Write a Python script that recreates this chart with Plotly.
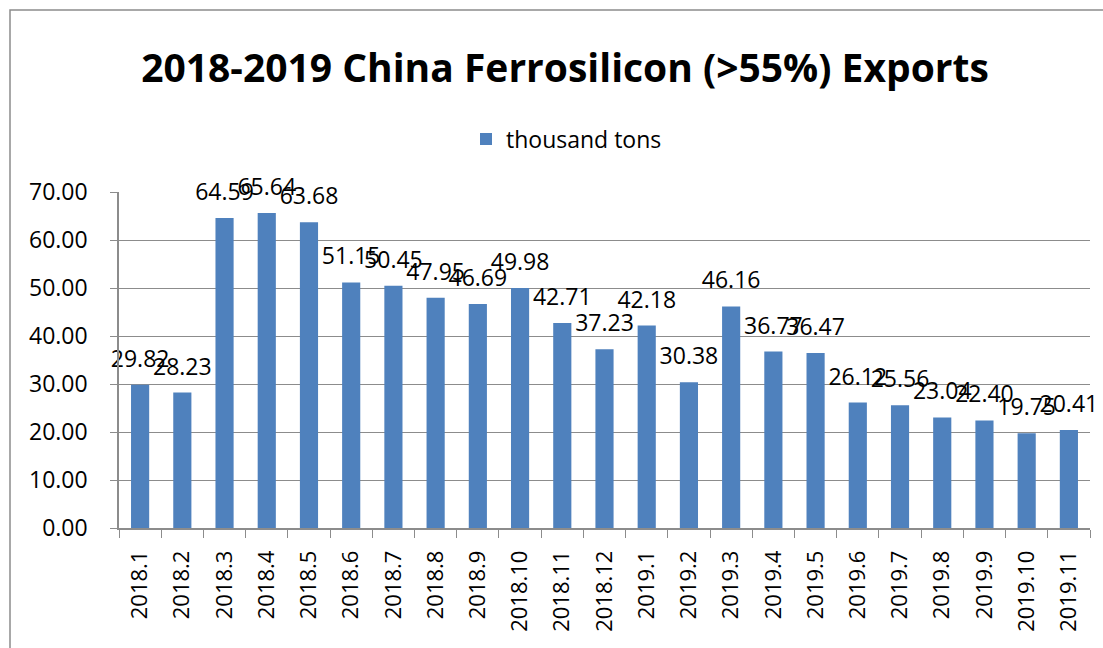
import plotly.graph_objects as go

categories = ["2018.1", "2018.2", "2018.3", "2018.4", "2018.5", "2018.6", "2018.7", "2018.8",
              "2018.9", "2018.10", "2018.11", "2018.12", "2019.1", "2019.2", "2019.3", "2019.4",
              "2019.5", "2019.6", "2019.7", "2019.8", "2019.9", "2019.10", "2019.11"]
values = [29.82, 28.23, 64.59, 65.64, 63.68, 51.15, 50.45, 47.95, 46.69, 49.98, 42.71, 37.23,
          42.18, 30.38, 46.16, 36.77, 36.47, 26.12, 25.56, 23.04, 22.40, 19.75, 20.41]
y_ticks = [0, 10, 20, 30, 40, 50, 60, 70]
series_name = "thousand tons"
title_text = "2018-2019 China Ferrosilicon (>55%) Exports"

FONT = "Open Sans"
W, H = 1103, 648
L, R, T, B = 119, 13, 192, 120
pw, ph = W - L - R, H - T - B

fig = go.Figure()
fig.add_trace(go.Bar(
    x=categories, y=values, name=series_name,
    marker=dict(color="#4f81bd", line=dict(width=0)),
    hoverinfo="skip",
))
# data labels above the bars
fig.add_trace(go.Scatter(
    x=categories, y=values, mode="markers+text",
    text=[f"{v:.2f}" for v in values], textposition="top center",
    marker=dict(size=18, opacity=0, color="white"),
    textfont=dict(family=FONT, size=23, color="#000000"),
    showlegend=False, cliponaxis=False, hoverinfo="skip",
))

def px(x):
    return (x - L) / pw

def py(y):
    return (H - B - y) / ph

fig.add_shape(type="rect", xref="paper", yref="paper",
              x0=px(10), x1=px(1110), y0=py(670), y1=py(10),
              line=dict(color="#8c8c8c", width=1.5), fillcolor="rgba(0,0,0,0)", layer="below")

fig.update_layout(
    width=W, height=H,
    margin=dict(l=L, r=R, t=T, b=B, autoexpand=False),
    paper_bgcolor="white", plot_bgcolor="white",
    bargap=0.57,
    showlegend=True,
    title=dict(text=f"<b>{title_text}</b>", x=565 / W, xanchor="center", y=1 - 68 / H, yanchor="middle",
               font=dict(family=FONT, size=39, color="#000000")),
    legend=dict(orientation="h", x=466 / W, xanchor="left", xref="container",
                y=1 - 139 / H, yref="container", yanchor="middle",
                font=dict(family=FONT, size=23, color="#000000"),
                itemwidth=30),
    xaxis=dict(type="category", tickangle=-90, tickson="boundaries",
               range=[-0.5, len(categories) - 0.5],
               ticks="outside", ticklen=8, tickcolor="#8c8c8c",
               showline=True, linecolor="#8c8c8c", linewidth=1.5,
               tickfont=dict(family=FONT, size=22, color="#000000"),
               ticklabelstandoff=12,
               showgrid=False),
    yaxis=dict(range=[0, 70], tickvals=y_ticks, ticktext=[f"{v:.2f}" for v in y_ticks],
               ticks="outside", ticklen=7, tickcolor="#8c8c8c",
               showline=True, linecolor="#8c8c8c", linewidth=1.5,
               showgrid=True, gridcolor="#8c8c8c", gridwidth=1.2,
               ticklabelstandoff=18,
               tickfont=dict(family=FONT, size=23, color="#000000"), zeroline=False),
)

fig.write_html("out.html", config={"displayModeBar": False},
               post_script="document.body.style.margin='0';")
